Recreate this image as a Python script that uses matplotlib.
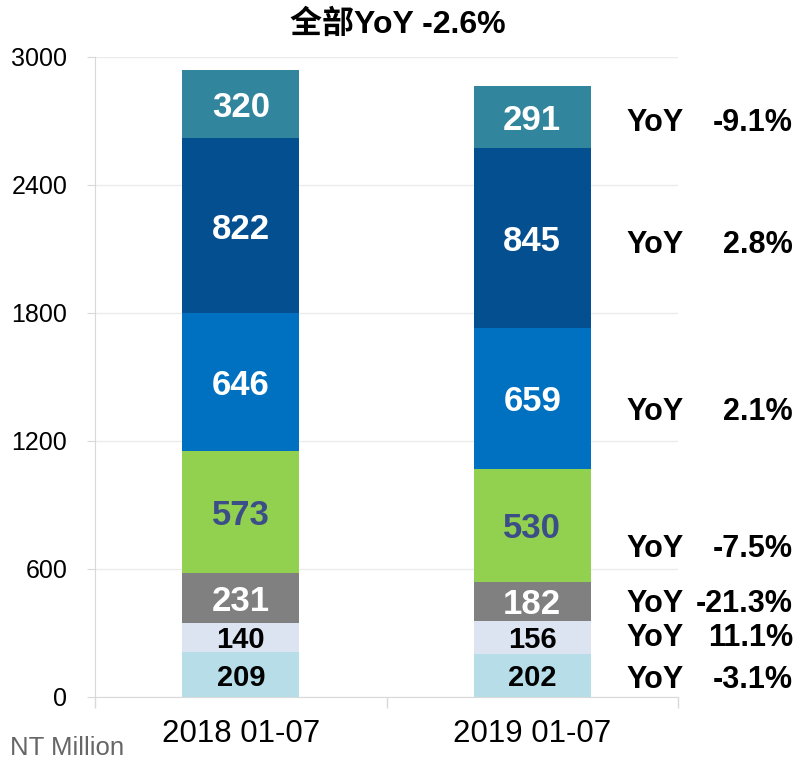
import matplotlib
matplotlib.use("Agg")
import matplotlib.pyplot as plt
import numpy as np

plt.rcParams['font.family'] = ['Liberation Sans', 'Noto Sans CJK SC', 'DejaVu Sans']

categories = ["2018 01-07", "2019 01-07"]
# segments bottom -> top
values_2018 = [209, 140, 231, 573, 646, 822, 320]
values_2019 = [202, 156, 182, 530, 659, 845, 291]
yoy_labels = ["-3.1%", "11.1%", "-21.3%", "-7.5%", "2.1%", "2.8%", "-9.1%"]
title = "全部YoY -2.6%"
y_ticks = [0, 600, 1200, 1800, 2400, 3000]

colors = ["#b7dde8", "#dce3f1", "#808080", "#92d050", "#0070c0", "#034f8f", "#31859c"]
text_colors = ["black", "black", "white", "#3b4e87", "white", "white", "white"]
text_sizes = [21, 21, 25, 25, 25, 25, 25]
yoy_y = [98, 295, 450, 708, 1350, 2137, 2705]

fig = plt.figure(figsize=(7.97, 7.59), dpi=100)
ax = fig.add_axes([95/797, 1-697/759, (678-95)/797, (697-57)/759])

data = np.array([values_2018, values_2019])
x = np.arange(len(categories))
bottoms = np.zeros(len(categories))
for i in range(data.shape[1]):
    vals = data[:, i]
    ax.bar(x, vals, bottom=bottoms, width=0.4, color=colors[i], zorder=3)
    for j in range(len(categories)):
        ax.text(x[j], bottoms[j] + vals[j]/2, str(vals[j]), ha='center', va='center_baseline',
                color=text_colors[i], fontsize=text_sizes[i], fontweight='bold', zorder=4)
    bottoms += vals

ax.set_xlim(-0.5, 1.5)
ax.set_ylim(0, 3000)
ax.set_yticks(y_ticks)
ax.set_yticklabels([str(t) for t in y_ticks], fontsize=18)
ax.set_xticks(x)
ax.set_xticklabels(categories, fontsize=22.5)
ax.tick_params(axis='x', length=0, pad=16)
ax.set_xticks([-0.5, 0.5, 1.5], minor=True)
ax.tick_params(axis='x', which='minor', length=8, color='#d9d9d9', width=1)
ax.tick_params(axis='y', length=6, color='#d9d9d9', pad=14)
ax.grid(axis='y', color='#ebebeb', linewidth=1, zorder=0)
for s in ['top', 'right']:
    ax.spines[s].set_visible(False)
for s in ['left', 'bottom']:
    ax.spines[s].set_color('#d9d9d9')

for lbl, yy in zip(yoy_labels, yoy_y):
    yfig = ax.transData.transform((0, yy))[1] / fig.dpi / fig.get_figheight()
    fig.text(626/797, yfig, "YoY", ha='left', va='center_baseline', fontsize=22, fontweight='bold')
    fig.text(793/797, yfig, lbl, ha='right', va='center_baseline', fontsize=22, fontweight='bold')

fig.text(398/797, 1-25/759, title, ha='center', va='center', fontsize=23, fontweight='bold')
fig.text(10/797, 1-748/759, "NT Million", ha='left', va='center', fontsize=18.5, color='#666666')

fig.savefig("out.png", dpi=100)
